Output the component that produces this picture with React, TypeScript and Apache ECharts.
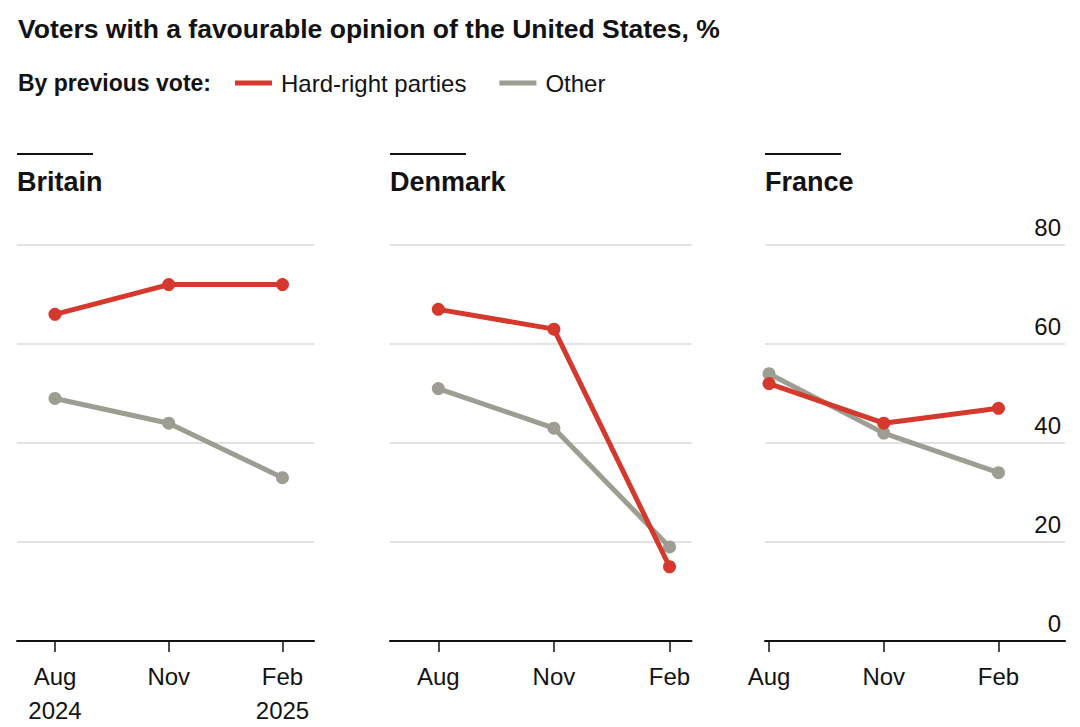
import React, { useEffect, useRef } from "react";
import * as echarts from "echarts";

// ---- data ----
const countries = ["Britain", "Denmark", "France"];
const months = ["Aug", "Nov", "Feb"];
const britainYears = ["2024", "", "2025"];
const hardRightBritain = [66, 72, 72];
const otherBritain = [49, 44, 33];
const hardRightDenmark = [67, 63, 15];
const otherDenmark = [51, 43, 19];
const hardRightFrance = [52, 44, 47];
const otherFrance = [54, 42, 34];
const yTickValues = [0, 20, 40, 60, 80];

const hardRight = [hardRightBritain, hardRightDenmark, hardRightFrance];
const other = [otherBritain, otherDenmark, otherFrance];

// ---- layout / style ----
const FONT = '"Liberation Sans", Arial, Helvetica, sans-serif';
const RED = "#d5392e";
const GRAY = "#9e9d91";
const INK = "#121212";
const gridLeft = [17, 390, 765];
const gridRight = [314, 691.5, 1065];
const xMin = [-0.334, -0.418, -0.035];
const xMax = [2.277, 2.19, 2.58];
const GRID_TOP = 245;
const GRID_H = 396;

export default function App() {
  const ref = useRef<HTMLDivElement>(null);
  useEffect(() => {
    if (!ref.current) return;
    const chart = echarts.init(ref.current, undefined, { renderer: "svg" });
    const idx = months.map((_, j) => j);

    const grids = countries.map((_, i) => ({
      left: gridLeft[i],
      top: GRID_TOP,
      width: gridRight[i] - gridLeft[i],
      height: GRID_H,
      containLabel: false,
      outerBoundsMode: "none",
    }));

    const xAxes = countries.map((_, i) => ({
      type: "value",
      gridIndex: i,
      min: xMin[i],
      max: xMax[i],
      axisLine: { show: true, onZero: false, lineStyle: { color: INK, width: 2 } },
      axisTick: { show: true, customValues: idx, length: 11, lineStyle: { color: INK, width: 1.5 } },
      axisLabel: {
        customValues: idx,
        fontSize: 24,
        lineHeight: 34,
        margin: 18,
        color: INK,
        fontFamily: FONT,
        formatter: (v: number) => {
          const j = Math.round(v);
          const yr = i === 0 ? britainYears[j] : "";
          return yr ? months[j] + "\n" + yr : months[j];
        },
      },
      splitLine: { show: false },
    }));

    const yAxes = countries.map((_, i) => ({
      type: "value",
      gridIndex: i,
      min: yTickValues[0],
      max: yTickValues[yTickValues.length - 1],
      interval: 20,
      position: "right",
      axisLine: { show: false },
      axisTick: { show: false },
      splitLine: { show: true, lineStyle: { color: "#d9d9d9", width: 1.5 } },
      axisLabel:
        i === 2
          ? {
              show: true,
              inside: true,
              margin: 4,
              verticalAlign: "bottom",
              padding: [0, 0, 6, 0],
              fontSize: 24,
              color: INK,
              fontFamily: FONT,
            }
          : { show: false },
    }));

    const series: any[] = [];
    countries.forEach((_, i) => {
      series.push({
        type: "line",
        name: "Other",
        xAxisIndex: i,
        yAxisIndex: i,
        data: other[i].map((v, j) => [j, v]),
        symbol: "circle",
        symbolSize: 13,
        lineStyle: { color: GRAY, width: 5 },
        itemStyle: { color: GRAY },
        z: 2,
      });
      series.push({
        type: "line",
        name: "Hard-right parties",
        xAxisIndex: i,
        yAxisIndex: i,
        data: hardRight[i].map((v, j) => [j, v]),
        symbol: "circle",
        symbolSize: 13,
        lineStyle: { color: RED, width: 5 },
        itemStyle: { color: RED },
        z: 3,
      });
    });

    const graphics: any[] = [
      {
        type: "text",
        x: 18,
        y: 29,
        style: {
          text: "Voters with a favourable opinion of the United States, %",
          fontSize: 26.5,
          fontWeight: "bold",
          fontFamily: FONT,
          fill: INK,
          verticalAlign: "middle",
        },
      },
      {
        type: "text",
        x: 18,
        y: 83,
        style: {
          text: "By previous vote:",
          fontSize: 23,
          fontWeight: "bold",
          fontFamily: FONT,
          fill: INK,
          verticalAlign: "middle",
        },
      },
    ];
    countries.forEach((c, i) => {
      graphics.push({
        type: "line",
        shape: { x1: gridLeft[i], y1: 154, x2: gridLeft[i] + 76, y2: 154 },
        style: { stroke: INK, lineWidth: 2 },
      });
      graphics.push({
        type: "text",
        x: gridLeft[i],
        y: 182,
        style: {
          text: c,
          fontSize: 27,
          fontWeight: "bold",
          fontFamily: FONT,
          fill: INK,
          verticalAlign: "middle",
        },
      });
    });

    chart.setOption({
      animation: false,
      backgroundColor: "#ffffff",
      textStyle: { fontFamily: FONT },
      legend: {
        left: 230,
        top: 66,
        itemWidth: 37,
        itemHeight: 5,
        itemGap: 33,
        icon: "rect",
        selectedMode: false,
        data: ["Hard-right parties", "Other"],
        textStyle: { fontSize: 24, color: INK, fontFamily: FONT, padding: [0, 0, 0, 4] },
      },
      grid: grids,
      xAxis: xAxes,
      yAxis: yAxes,
      series,
      graphic: graphics,
    } as any);
    return () => chart.dispose();
  }, []);
  return (
    <div
      ref={ref}
      style={{ position: "absolute", left: 0, top: 0, width: 1080, height: 727 }}
    />
  );
}
